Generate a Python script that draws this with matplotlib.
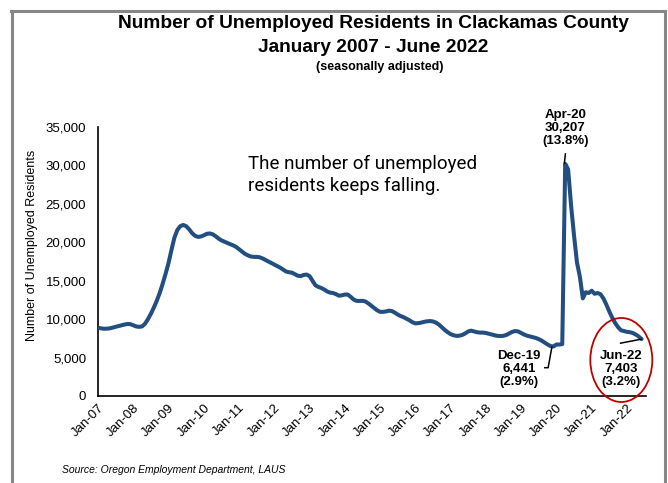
import matplotlib
matplotlib.use("Agg")
import matplotlib.pyplot as plt
from matplotlib.patches import Ellipse
from matplotlib.lines import Line2D
import numpy as np

# ---- data (monthly, Jan-2007 .. Jun-2022) ----
unemployed = [
    # 2007
    8900, 8800, 8750, 8760, 8800, 8900, 9000, 9100, 9200, 9300, 9370, 9350,
    # 2008
    9200, 9050, 9000, 9050, 9400, 10000, 10700, 11500, 12400, 13400, 14600, 15900,
    # 2009
    17300, 19000, 20600, 21600, 22100, 22250, 22100, 21700, 21200, 20850, 20700, 20750,
    # 2010
    20900, 21100, 21150, 21050, 20800, 20500, 20250, 20080, 19900, 19750, 19600, 19400,
    # 2011
    19100, 18800, 18500, 18300, 18150, 18100, 18100, 18050, 17900, 17700, 17500, 17300,
    # 2012
    17100, 16900, 16700, 16450, 16200, 16100, 16050, 15850, 15650, 15600, 15750, 15800,
    # 2013
    15600, 15000, 14400, 14200, 14050, 13850, 13600, 13450, 13400, 13250, 13050, 13100,
    # 2014
    13200, 13200, 12900, 12550, 12380, 12370, 12380, 12300, 12050, 11750, 11450, 11150,
    # 2015
    10950, 10950, 11000, 11100, 11050, 10850, 10600, 10400, 10250, 10050, 9850, 9600,
    # 2016
    9450, 9480, 9550, 9650, 9720, 9750, 9700, 9550, 9300, 8950, 8600, 8300,
    # 2017
    8050, 7900, 7820, 7850, 7950, 8150, 8400, 8500, 8400, 8300, 8250, 8250,
    # 2018
    8200, 8100, 8000, 7900, 7820, 7800, 7830, 7950, 8150, 8350, 8450, 8400,
    # 2019
    8200, 8000, 7850, 7750, 7650, 7550, 7400, 7200, 6950, 6700, 6500, 6441,
    # 2020
    6700, 6700, 6750, 30207, 29500, 24800, 20900, 17400, 15500, 12700, 13500, 13400,
    # 2021
    13700, 13300, 13400, 13250, 12700, 11900, 11000, 10200, 9500, 8950, 8550, 8450,
    # 2022
    8350, 8300, 8200, 8000, 7750, 7403,
]
tick_labels = ["Jan-07", "Jan-08", "Jan-09", "Jan-10", "Jan-11", "Jan-12", "Jan-13",
               "Jan-14", "Jan-15", "Jan-16", "Jan-17", "Jan-18", "Jan-19", "Jan-20",
               "Jan-21", "Jan-22"]
y_ticks = [0, 5000, 10000, 15000, 20000, 25000, 30000, 35000]

idx_dec19, lbl_dec19 = 155, ["Dec-19", "6,441", "(2.9%)"]
idx_apr20, lbl_apr20 = 159, ["Apr-20", "30,207", "(13.8%)"]
idx_jun22, lbl_jun22 = 185, ["Jun-22", "7,403", "(3.2%)"]

title1 = "Number of Unemployed Residents in Clackamas County"
title2 = "January 2007 - June 2022"
title3 = "(seasonally adjusted)"
callout = "The number of unemployed\nresidents keeps falling."
source = "Source: Oregon Employment Department, LAUS"

# ---- figure ----
W, H = 668, 483
plt.rcParams['font.family'] = ['Liberation Sans', 'DejaVu Sans']
fig = plt.figure(figsize=(W / 100, H / 100), dpi=100)
ax = fig.add_axes([98 / W, (H - 396) / H, (646 - 98) / W, 269 / H])

x = np.arange(len(unemployed))
ax.plot(x, unemployed, color='#224E80', lw=2.9, solid_joinstyle='round',
        solid_capstyle='round', zorder=3)

ax.set_xlim(0, 186.5)
ax.set_ylim(0, 35000)
ax.set_yticks(y_ticks)
ax.set_yticklabels([f"{v:,}" for v in y_ticks], fontsize=9.5)
ax.set_xticks(np.arange(0, 12 * len(tick_labels), 12))
ax.set_xticklabels(tick_labels, rotation=45, ha='right', rotation_mode='anchor',
                   fontsize=9.5)
ax.tick_params(axis='both', length=0)
ax.tick_params(axis='y', pad=8.5)
ax.tick_params(axis='x', pad=4)
for s in ['top', 'right']:
    ax.spines[s].set_visible(False)
for s in ['left', 'bottom']:
    ax.spines[s].set_linewidth(1.2)
    ax.spines[s].set_color('black')

fig.text(32 / W, 1 - 245 / H, "Number of Unemployed Residents", rotation=90,
         ha='center', va='center', fontsize=9)

# titles
fig.text(373 / W, 1 - 23 / H, title1, ha='center', va='center', fontsize=13.8,
         fontweight='bold')
fig.text(373 / W, 1 - 48 / H, title2, ha='center', va='center', fontsize=13.8,
         fontweight='bold')
fig.text(380 / W, 1 - 67 / H, title3, ha='center', va='center', fontsize=9,
         fontweight='bold')

# callout
ax.text(51, 28750, callout, ha='left', va='center', fontsize=13.5,
        family=['Roboto', 'DejaVu Sans'], linespacing=1.25)

# point annotations
ann_kw = dict(ha='center', va='center', fontsize=9.5, fontweight='bold',
              linespacing=1.1)
ax.text(159, 34870, "\n".join(lbl_apr20), **ann_kw)
ax.text(143.2, 3513, "\n".join(lbl_dec19), **ann_kw)
ax.text(177.9, 3513, "\n".join(lbl_jun22), **ann_kw)

lk = dict(color='black', lw=1.1, solid_capstyle='butt', zorder=4)
ax.plot([idx_apr20 - 0.3, idx_apr20 + 0.1], [unemployed[idx_apr20], 31600], **lk)
ax.plot([idx_dec19 - 0.5, 153.2, 151.8], [unemployed[idx_dec19], 3682, 3682],
        clip_on=False, **lk)
ax.plot([177.6, idx_jun22], [6856, unemployed[idx_jun22]], **lk)

ax.add_patch(Ellipse((178.1, 4684), 21.1, 10929, fill=False, edgecolor='#C00000',
                     lw=1.3, clip_on=False, zorder=5))

fig.text(62 / W, 1 - 470 / H, source, ha='left', va='center', fontsize=7.5,
         style='italic')

# gray frame
fc = '#878787'
fig.add_artist(Line2D([12.5 / W, 12.5 / W], [0, 1 - 10.5 / H], color=fc, lw=2.2,
                      transform=fig.transFigure))
fig.add_artist(Line2D([11 / W, 665 / W], [1 - 10.5 / H, 1 - 10.5 / H], color=fc,
                      lw=2.2, transform=fig.transFigure))
fig.add_artist(Line2D([665 / W, 665 / W], [0, 1 - 10.5 / H], color=fc, lw=2.2,
                      transform=fig.transFigure))

fig.savefig("out.png", dpi=100)
